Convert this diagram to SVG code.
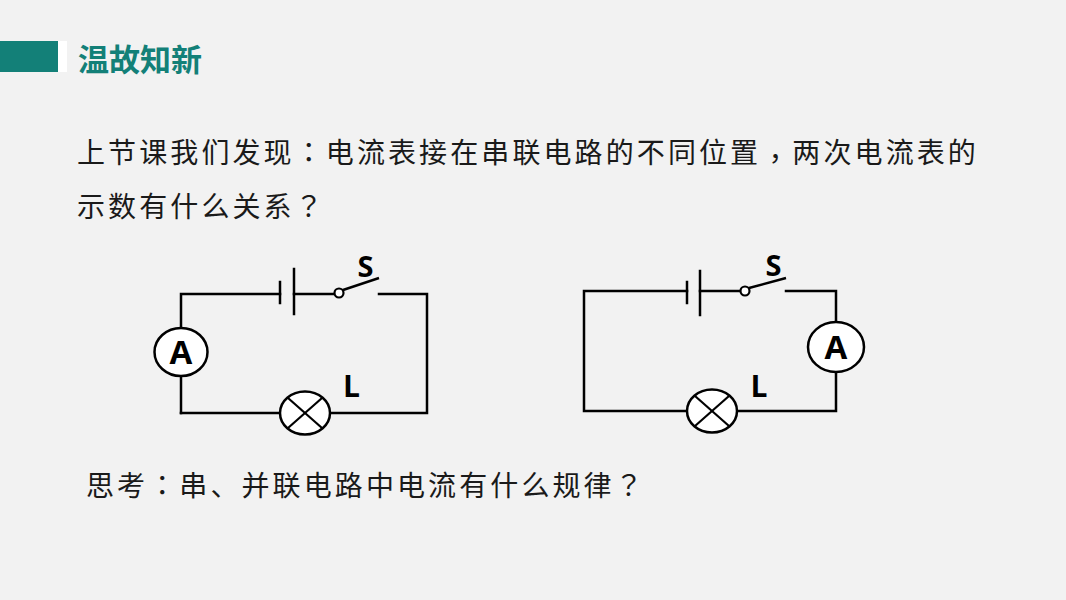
<svg xmlns="http://www.w3.org/2000/svg" width="1066" height="600" viewBox="0 0 1066 600">
<style>
.w{fill:none;stroke:#000;stroke-width:2.5;stroke-linecap:square}
.t{font-family:"Noto Sans CJK SC","Liberation Sans",sans-serif;font-size:28px;fill:#1a1a1a;letter-spacing:3.1px}
.p{font-family:"Noto Sans CJK TC","Noto Sans CJK SC",sans-serif}
.lb{font-family:"Open Sans","DejaVu Sans",sans-serif;font-weight:bold;fill:#000}
</style>
<rect width="1066" height="600" fill="#f2f2f2"/>
<g id="header">
<rect x="0" y="41" width="58" height="31" fill="#138078"/>
<rect x="58" y="41" width="9" height="31" fill="#ffffff"/>
<text x="78" y="71" font-family="'Noto Sans CJK SC',sans-serif" font-size="31" font-weight="bold" fill="#138078">温故知新</text>
</g>
<g id="question">
<text class="t" x="77" y="163">上节课我们发现<tspan class="p">：</tspan>电流表接在串联电路的不同位置<tspan class="p" dy="6">，</tspan><tspan dy="-6">两次电流表的</tspan></text>
<text class="t" x="77" y="217">示数有什么关系<tspan class="p">？</tspan></text>
</g>
<g id="think">
<text class="t" x="86" y="496">思考<tspan class="p">：</tspan>串、并联电路中电流有什么规律<tspan class="p">？</tspan></text>
</g>
<g id="circuit1">
<g id="c1-wires" class="w">
<polyline points="280,294 181,294 181,328"/>
<line x1="181" y1="377" x2="181" y2="413"/>
<line x1="181" y1="413" x2="280" y2="413"/>
<polyline points="330,413 427,413 427,294 379,294"/>
<line x1="294" y1="294" x2="334" y2="294"/>
</g>
<g id="c1-battery" class="w">
<line x1="280" y1="282" x2="280" y2="303"/>
<line x1="294" y1="269" x2="294" y2="314"/>
</g>
<g id="c1-switch">
<circle cx="339" cy="293" r="4.5" fill="#fff" stroke="#000" stroke-width="2.2"/>
<line x1="343" y1="290" x2="379" y2="278" stroke="#000" stroke-width="2.5"/>
<text class="lb" x="365.5" y="277" font-size="29" text-anchor="middle">S</text>
</g>
<g id="c1-ammeter">
<ellipse cx="181" cy="352" rx="26.5" ry="24" fill="#fff" stroke="#000" stroke-width="2.5"/>
<text class="lb" x="181" y="364" font-size="33" text-anchor="middle">A</text>
</g>
<g id="c1-lamp">
<ellipse cx="305" cy="413" rx="25" ry="21.5" fill="#fff" stroke="#000" stroke-width="2.5"/>
<line x1="288" y1="398" x2="322" y2="428" stroke="#000" stroke-width="2.2"/>
<line x1="322" y1="398" x2="288" y2="428" stroke="#000" stroke-width="2.2"/>
<text class="lb" x="351.5" y="397" font-size="30" text-anchor="middle">L</text>
</g>
</g>
<g id="circuit2">
<g id="c2-wires" class="w">
<polyline points="687,291 584,291 584,411 687,411"/>
<polyline points="737,411 836,411 836,373"/>
<polyline points="836,323 836,291 786,291"/>
<line x1="700" y1="291" x2="740" y2="291"/>
</g>
<g id="c2-battery" class="w">
<line x1="687" y1="282" x2="687" y2="303"/>
<line x1="700" y1="271" x2="700" y2="315"/>
</g>
<g id="c2-switch">
<circle cx="745" cy="291" r="4.5" fill="#fff" stroke="#000" stroke-width="2.2"/>
<line x1="749" y1="288" x2="786" y2="278" stroke="#000" stroke-width="2.5"/>
<text class="lb" x="773.5" y="276" font-size="29" text-anchor="middle">S</text>
</g>
<g id="c2-ammeter">
<ellipse cx="836" cy="347" rx="28" ry="25" fill="#fff" stroke="#000" stroke-width="2.5"/>
<text class="lb" x="836" y="359" font-size="33" text-anchor="middle">A</text>
</g>
<g id="c2-lamp">
<ellipse cx="712" cy="411" rx="25" ry="21.5" fill="#fff" stroke="#000" stroke-width="2.5"/>
<line x1="695" y1="396" x2="729" y2="426" stroke="#000" stroke-width="2.2"/>
<line x1="729" y1="396" x2="695" y2="426" stroke="#000" stroke-width="2.2"/>
<text class="lb" x="759" y="397" font-size="30" text-anchor="middle">L</text>
</g>
</g>
</svg>
